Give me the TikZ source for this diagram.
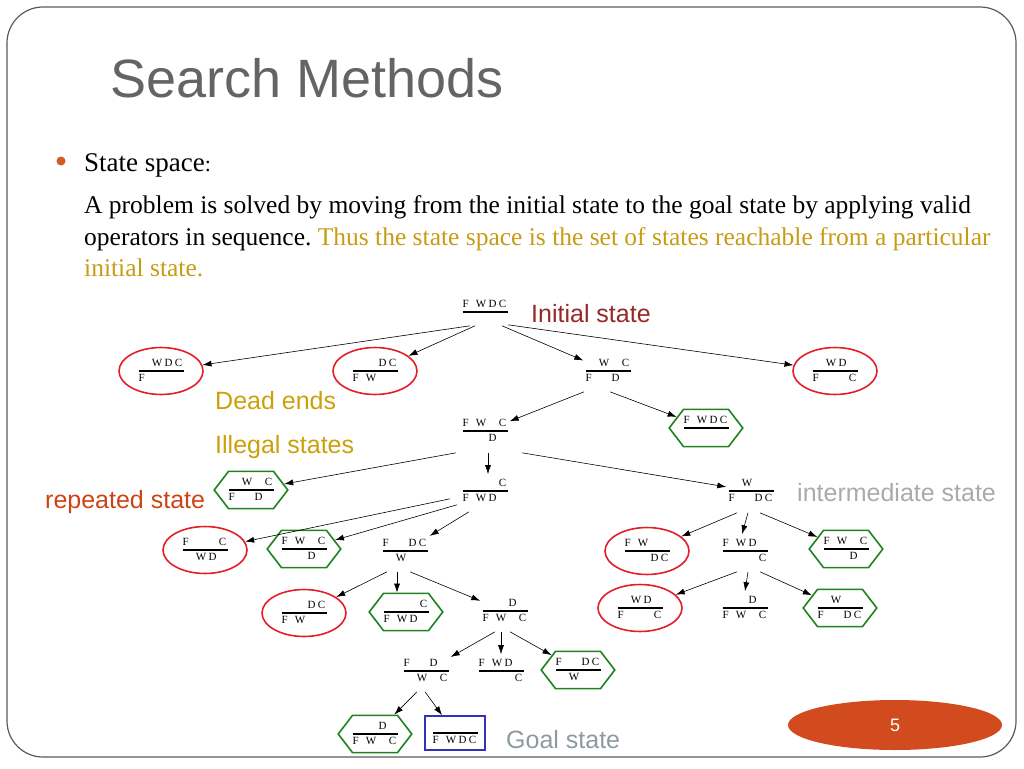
\documentclass[tikz,border=0pt]{standalone}
\usepackage{fontspec}
\setmainfont{Liberation Serif}
\setsansfont{Liberation Sans}
\usepackage{tikz}
\usetikzlibrary{shapes.geometric,shapes.symbols,arrows.meta,positioning}
\definecolor{framegray}{RGB}{90,90,90}
\definecolor{titlegray}{RGB}{100,100,100}
\definecolor{bulletorange}{RGB}{214,88,38}
\definecolor{textgold}{RGB}{200,155,20}
\definecolor{initred}{RGB}{150,40,40}
\definecolor{labelgold}{RGB}{204,160,10}
\definecolor{repred}{RGB}{204,68,20}
\definecolor{midgray}{RGB}{170,170,170}
\definecolor{goalgray}{RGB}{140,155,160}
\definecolor{deadred}{RGB}{228,30,40}
\definecolor{repgreen}{RGB}{30,130,30}
\definecolor{goalblue}{RGB}{50,50,190}
\definecolor{pageorange}{RGB}{210,75,30}

% one side of the river: the four columns F W D C
\newcommand{\cols}[4]{\makebox[12pt][l]{#1}\makebox[13pt]{#2}\makebox[10pt]{#3}\makebox[10pt]{#4}}
% a state: left bank over the rule, right bank under it
\newcommand{\st}[8]{\begin{tabular}{@{}c@{}}\cols{#1}{#2}{#3}{#4}\\\hline\cols{#5}{#6}{#7}{#8}\end{tabular}}
\setlength{\arrayrulewidth}{1.2pt}

\tikzset{
  state/.style={inner sep=2pt, font=\fontsize{11}{14}\selectfont},
  deadend/.style={state, ellipse, draw=deadred, line width=1.6pt, minimum width=84pt, minimum height=38pt},
  repeated/.style={state, signal, signal to=east and west, signal pointer angle=105, draw=repgreen, line width=1.6pt, minimum width=70pt, minimum height=34pt, inner xsep=0pt, inner ysep=4pt},
  goalbox/.style={state, draw=goalblue, line width=1.6pt, minimum width=60pt, minimum height=34pt},
  lbl/.style={font=\sffamily\fontsize{25}{25}\selectfont, anchor=base west, inner sep=0pt},
  arr/.style={-{Latex[length=9pt,width=6pt]}, line width=0.6pt}
}

\begin{document}
\begin{tikzpicture}[x=1pt,y=-1pt]
  \useasboundingbox (0,0) rectangle (1024,768);
  % slide frame
  \draw[framegray, line width=1.2pt, rounded corners=36pt] (7,7) rectangle (1016,757);

  % title and text
  \node[anchor=base west, inner sep=0pt, text=titlegray, font=\sffamily\fontsize{54}{54}\selectfont] (title) at (110,97) {Search Methods};
  \fill[bulletorange] (61,161) circle (4.5pt);
  \node[anchor=base west, inner sep=0pt, font=\fontsize{27}{27}\selectfont] (head) at (84,171) {State space\fontsize{22}{22}\selectfont:};
  \node[anchor=base west, inner sep=0pt, font=\fontsize{25.5}{25.5}\selectfont] (line1) at (84,213) {A problem is solved by moving from the initial state to the goal state by applying valid};
  \node[anchor=base west, inner sep=0pt, font=\fontsize{25.5}{25.5}\selectfont] (line2) at (84,245) {operators in sequence.\ \textcolor{textgold}{Thus the state space is the set of states reachable from a particular}};
  \node[anchor=base west, inner sep=0pt, font=\fontsize{25.5}{25.5}\selectfont, text=textgold] (line3) at (84,276) {initial state.};

  % states
  \node[state] (n0) at (485,312) {\st{F}{W}{D}{C}{}{}{}{}};
  \node[deadend] (a1) at (161,371) {\st{}{W}{D}{C}{F}{}{}{}};
  \node[deadend] (a2) at (375,371) {\st{}{}{D}{C}{F}{W}{}{}};
  \node[state] (a3) at (608,371) {\st{}{W}{}{C}{F}{}{D}{}};
  \node[deadend] (a4) at (835,371) {\st{}{W}{D}{}{F}{}{}{C}};
  \node[state] (b1) at (485,431) {\st{F}{W}{}{C}{}{}{D}{}};
  \node[repeated] (b2) at (706,428) {\st{F}{W}{D}{C}{}{}{}{}};
  \node[repeated] (c1) at (251,490) {\st{}{W}{}{C}{F}{}{D}{}};
  \node[state] (c2) at (485,491) {\st{}{}{}{C}{F}{W}{D}{}};
  \node[state] (c3) at (751,491) {\st{}{W}{}{}{F}{}{D}{C}};
  \node[deadend] (d1) at (205,550) {\st{F}{}{}{C}{}{W}{D}{}};
  \node[repeated] (d2) at (304,549) {\st{F}{W}{}{C}{}{}{D}{}};
  \node[state] (d3) at (405,551) {\st{F}{}{D}{C}{}{W}{}{}};
  \node[deadend] (d4) at (647,551) {\st{F}{W}{}{}{}{}{D}{C}};
  \node[state] (d5) at (745,551) {\st{F}{W}{D}{}{}{}{}{C}};
  \node[repeated] (d6) at (846,549) {\st{F}{W}{}{C}{}{}{D}{}};
  \node[deadend] (e1) at (304,613) {\st{}{}{D}{C}{F}{W}{}{}};
  \node[repeated] (e2) at (406,612) {\st{}{}{}{C}{F}{W}{D}{}};
  \node[state] (e3) at (505,611) {\st{}{}{D}{}{F}{W}{}{C}};
  \node[deadend] (e4) at (640,608) {\st{}{W}{D}{}{F}{}{}{C}};
  \node[state] (e5) at (745,608) {\st{}{}{D}{}{F}{W}{}{C}};
  \node[repeated] (e6) at (840,608) {\st{}{W}{}{}{F}{}{D}{C}};
  \node[state] (f1) at (426,671) {\st{F}{}{D}{}{}{W}{}{C}};
  \node[state] (f2) at (501,671) {\st{F}{W}{D}{}{}{}{}{C}};
  \node[repeated] (f3) at (578,670) {\st{F}{}{D}{C}{}{W}{}{}};
  \node[repeated] (g1) at (375,734) {\st{}{}{D}{}{F}{W}{}{C}};
  \node[goalbox] (g2) at (455,733) {\st{}{}{}{}{F}{W}{D}{C}};

  % moves
  \draw[arr] ([xshift=-15pt,yshift=3pt]n0.south) -- (a1);
  \draw[arr] ([xshift=-10pt,yshift=3pt]n0.south) -- (a2);
  \draw[arr] ([xshift=17pt,yshift=3pt]n0.south) -- (a3);
  \draw[arr] ([xshift=23pt,yshift=4pt]n0.south) -- (a4);
  \draw[arr] ([xshift=-24pt,yshift=-4pt]a3.south) -- (b1);
  \draw[arr] ([xshift=2pt,yshift=-4pt]a3.south) -- (b2);
  \draw[arr] ([xshift=-29pt,yshift=-5pt]b1.south) -- (c1);
  \draw[arr] ([xshift=3pt,yshift=-5pt]b1.south) -- ([xshift=3pt]c2.north);
  \draw[arr] ([xshift=37pt,yshift=-5pt]b1.south) -- (c3);
  \draw[arr] ([xshift=-35pt,yshift=9pt]c2.south) -- (d1);
  \draw[arr] ([xshift=-28pt,yshift=3pt]c2.south) -- (d2);
  \draw[arr] ([xshift=-16pt,yshift=-4pt]c2.south) -- (d3);
  \draw[arr] ([xshift=-14pt,yshift=-5pt]c3.south) -- (d4);
  \draw[arr] ([xshift=-3pt,yshift=-5pt]c3.south) -- ([xshift=-3pt]d5.north);
  \draw[arr] ([xshift=9pt,yshift=-5pt]c3.south) -- (d6);
  \draw[arr] ([xshift=-18pt,yshift=-4pt]d3.south) -- (e1);
  \draw[arr] ([xshift=-8pt,yshift=-4pt]d3.south) -- ([xshift=-9pt]e2.north);
  \draw[arr] ([xshift=5pt,yshift=-4pt]d3.south) -- (e3);
  \draw[arr] ([xshift=-8pt,yshift=-4pt]d5.south) -- (e4);
  \draw[arr] ([xshift=3pt,yshift=-4pt]d5.south) -- (e5.north);
  \draw[arr] ([xshift=15pt,yshift=-4pt]d5.south) -- (e6);
  \draw[arr] ([xshift=-10pt,yshift=-4pt]e3.south) -- (f1);
  \draw[arr] ([xshift=-4pt,yshift=-4pt]e3.south) -- (f2.north);
  \draw[arr] ([xshift=5pt,yshift=-4pt]e3.south) -- (f3);
  \draw[arr] ([xshift=-9pt,yshift=-4pt]f1.south) -- (g1);
  \draw[arr] ([xshift=-1pt,yshift=-4pt]f1.south) -- (g2);

  % legend texts
  \node[lbl, text=initred] (initlbl) at (531,322) {Initial state};
  \node[lbl, text=labelgold] (deadlbl) at (215,409) {Dead ends};
  \node[lbl, text=labelgold] (illlbl) at (215,453) {Illegal states};
  \node[lbl, text=repred] (replbl) at (45,508) {repeated state};
  \node[lbl, text=midgray] (midlbl) at (797,501) {intermediate state};
  \node[lbl, text=goalgray] (goallbl) at (506,748) {Goal state};

  % page number
  \node[ellipse, fill=pageorange, minimum width=214pt, minimum height=50pt, text=white, font=\sffamily\fontsize{18}{18}\selectfont] (page) at (895,725) {5};
\end{tikzpicture}
\end{document}
